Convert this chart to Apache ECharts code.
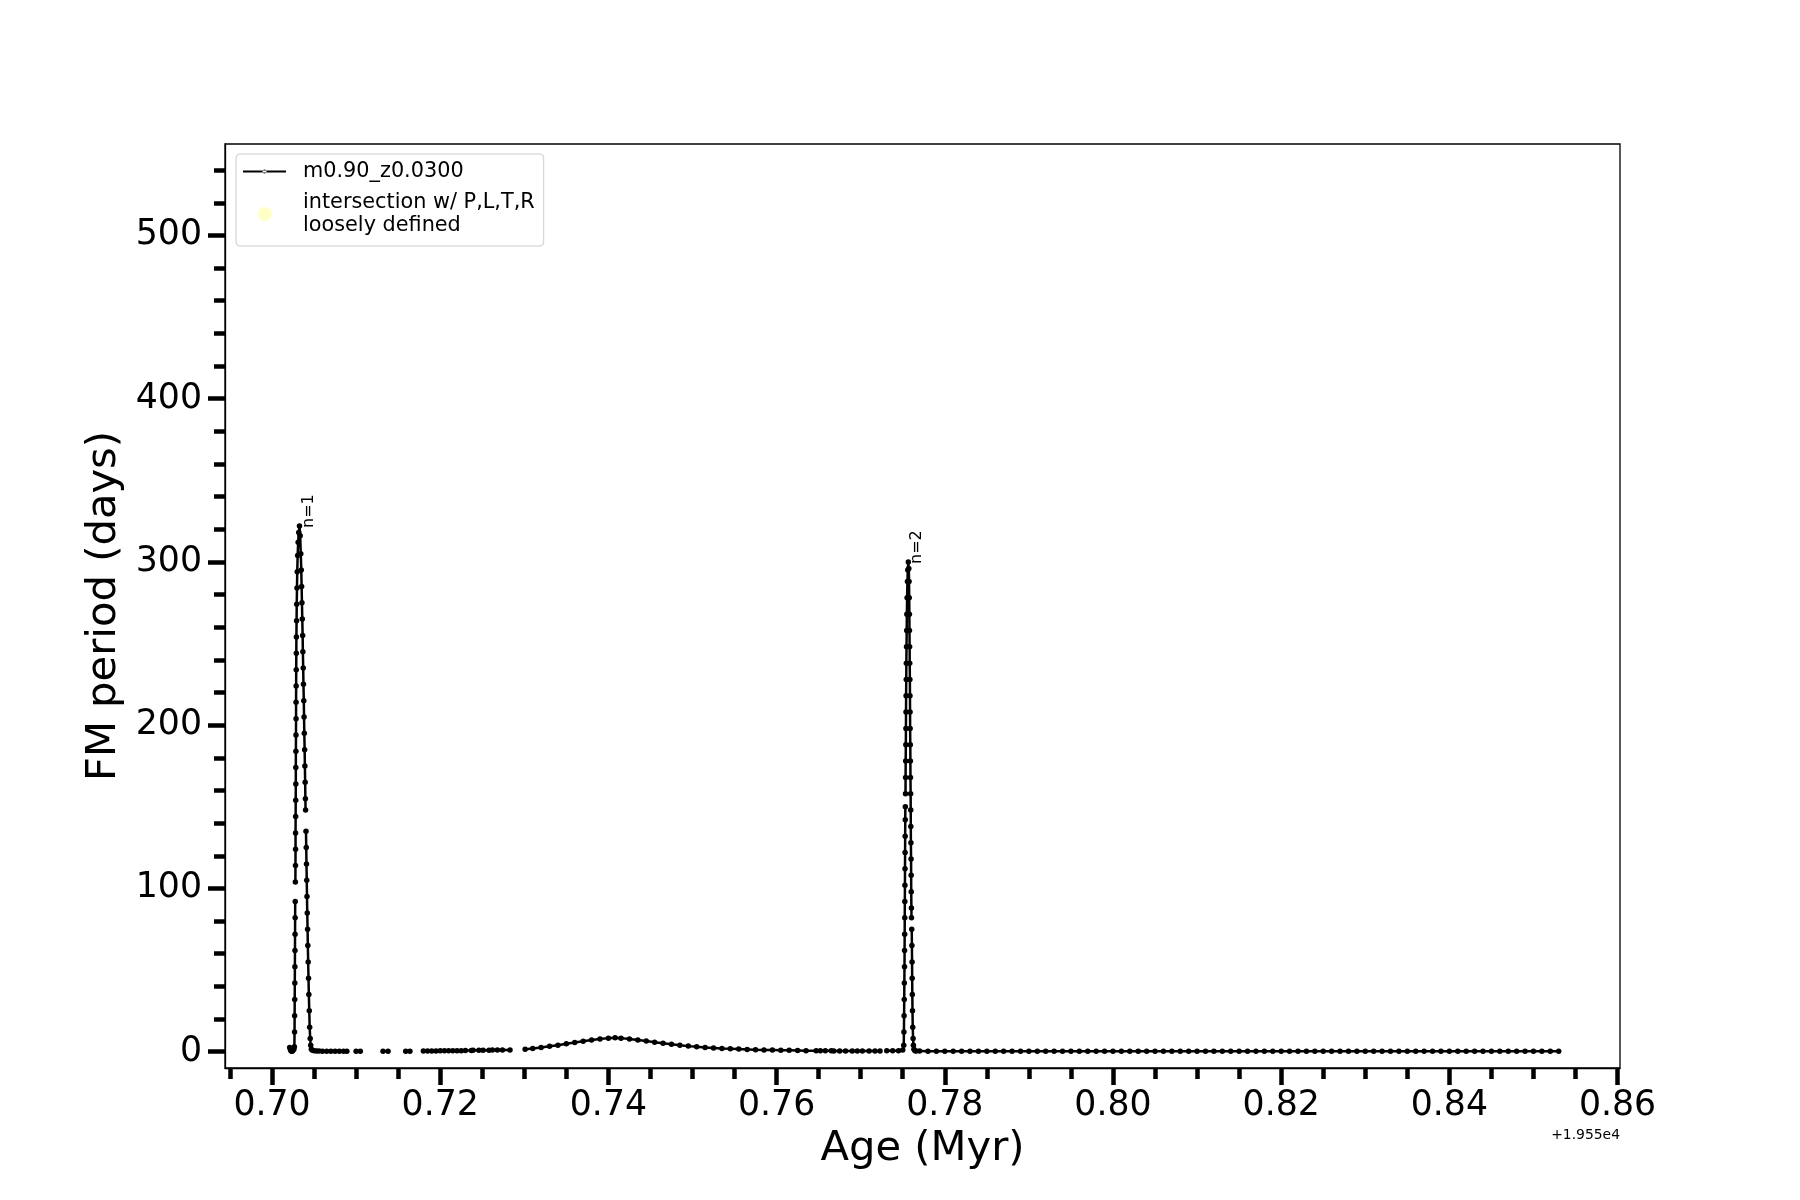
<!DOCTYPE html>
<html>
<head>
<meta charset="utf-8">
<script src="https://cdn.jsdelivr.net/npm/echarts@6/dist/echarts.min.js"></script>
<style>html,body{margin:0;padding:0;background:#fff}#c{width:1800px;height:1200px}</style>
</head>
<body>
<div id="c"></div>
<script>
// ---- data (age offset from 1.955e4 Myr, FM period in days); null = gap in the track ----
const agePeak1 = [0.70210,0.70220,0.70230,0.70240,0.70250,0.70260,0.70266,0.70268,0.70269,0.70270,0.70271,0.70272,0.70273,0.70274,0.70275,0.70276,0.70277,0.70278,0.70279,0.70280,0.70280,0.70281,0.70282,0.70283,0.70283,0.70284,0.70285,0.70286,0.70286,0.70287,0.70288,0.70289,0.70290,0.70292,0.70294,0.70297,0.70300,0.70305,0.70311,0.70318,0.70327,0.70335,0.70342,0.70348,0.70352,0.70356,0.70360,0.70364,0.70367,0.70371,0.70374,0.70378,0.70381,0.70384,0.70388,0.70391,0.70394,0.70397,0.70399,0.70401,0.70404,0.70407,0.70410,0.70413,0.70416,0.70419,0.70423,0.70426,0.70430,0.70434,0.70438,0.70443,0.70448,0.70454,0.70460,0.70468];
const periodPeak1 = [2.5,1.0,0.3,0.2,0.8,1.5,3,12,22,32,42,52,62,72,82,92,null,104,114,124,134,144,154,164,174,184,194,204,214,224,234,244,254,264,274,284,294,304,312,318,322,316,305,295,285,275,265,255,245,235,225,215,205,195,185,175,165,155,148,null,135,125,115,105,95,85,75,65,55,45,35,25,15,8,4,1.5];
const ageMid = [0.70480,0.70500,0.70530,0.70560,0.70600,0.70650,0.70700,0.70750,0.70800,0.70850,0.70890,0.70950,0.71000,0.71050,0.71200,0.71320,0.71380,0.71500,0.71590,0.71640,0.71720,0.71800,0.71850,0.71900,0.71950,0.72000,0.72050,0.72100,0.72150,0.72200,0.72250,0.72300,0.72370,0.72380,0.72390,0.72460,0.72490,0.72510,0.72580,0.72600,0.72620,0.72680,0.72740,0.72830,0.72900,0.73010,0.7310,0.7320,0.7330,0.7340,0.7350,0.7360,0.7370,0.7380,0.7390,0.7400,0.7408,0.7415,0.7425,0.7435,0.7445,0.7455,0.7465,0.7475,0.7485,0.7495,0.7505,0.7515,0.7525,0.7535,0.7545,0.7555,0.7565,0.7575,0.7585,0.7595,0.7605,0.7615,0.7625,0.7635,0.7647,0.7650,0.7652,0.7658,0.7665,0.76665,0.7668,0.7675,0.7682,0.7690,0.7696,0.7699,0.7702,0.7710,0.7717,0.7723,0.7727,0.7731,0.7738,0.7745,0.7750];
const periodMid = [0.8,0.5,0.4,0.4,0.3,0.3,0.3,0.3,0.3,0.3,0.3,null,0.3,0.3,null,0.3,0.3,null,0.3,0.3,null,0.4,0.4,0.4,0.4,0.5,0.5,0.5,0.5,0.6,0.6,0.7,0.7,null,0.8,0.8,null,0.9,0.9,null,1.0,1.0,1.1,1.1,null,1.5,2.0,2.6,3.3,4.0,4.8,5.6,6.4,7.2,7.8,8.3,8.5,8.3,7.8,7.2,6.5,5.8,5.1,4.5,3.9,3.4,3.0,2.6,2.3,2.0,1.8,1.6,1.4,1.2,1.1,1.0,0.9,0.8,0.7,0.6,0.5,null,0.5,0.5,0.5,null,0.4,0.4,0.4,0.4,0.4,null,0.4,0.4,0.4,0.4,null,0.5,0.5,0.6,1.0];
const agePeak2 = [0.77512,0.77514,0.77516,0.77518,0.77519,0.77521,0.77522,0.77523,0.77524,0.77525,0.77526,0.77527,0.77528,0.77529,0.77530,0.77531,0.77532,0.77533,0.77534,0.77535,0.77537,0.77538,0.77539,0.77540,0.77542,0.77543,0.77545,0.77547,0.77549,0.77552,0.77556,0.77560,0.77566,0.77572,0.77575,0.77577,0.77579,0.77580,0.77582,0.77583,0.77585,0.77586,0.77587,0.77588,0.77590,0.77591,0.77592,0.77594,0.77595,0.77596,0.77597,0.77599,0.77600,0.77601,0.77603,0.77604,0.77605,0.77607,0.77609,0.77611,0.77612,0.77614,0.77616,0.77619,0.77623,0.77627,0.77633,0.77645,0.77660];
const periodPeak2 = [4,12,22,32,42,52,62,72,82,92,102,112,122,132,142,150,null,158,168,178,188,198,208,218,228,238,248,258,268,278,288,295,300,296,288,278,268,258,248,238,228,218,208,198,188,178,168,158,148,138,128,118,108,98,88,82,null,75,65,55,45,35,25,15,8,4,1.5,0.6,0.4];
const ageTail = [0.777,0.778,0.779,0.780,0.781,0.782,0.783,0.784,0.785,0.786,0.787,0.788,0.789,0.790,0.791,0.792,0.793,0.794,0.795,0.796,0.797,0.798,0.799,0.800,0.801,0.802,0.803,0.804,0.805,0.806,0.807,0.808,0.809,0.810,0.811,0.812,0.813,0.814,0.815,0.816,0.817,0.818,0.819,0.820,0.821,0.822,0.823,0.824,0.825,0.826,0.827,0.828,0.829,0.830,0.831,0.832,0.833,0.834,0.835,0.836,0.837,0.838,0.839,0.840,0.841,0.842,0.843,0.844,0.845,0.846,0.847,0.848,0.849,0.850,0.851,0.852,0.853];
const periodTail = [0.4,0.3,0.3,0.3,0.3,0.3,0.3,0.3,0.3,0.3,0.3,0.3,0.3,0.3,0.3,0.3,0.3,0.3,0.3,0.3,0.2,0.2,0.2,0.2,0.2,0.2,0.2,0.2,0.2,0.2,0.2,0.2,0.2,0.2,0.2,0.2,0.2,0.2,0.2,0.2,0.2,0.2,0.2,0.2,0.2,0.2,0.2,0.2,0.2,0.2,0.2,0.2,0.2,0.2,0.2,0.2,0.2,0.2,0.2,0.2,0.2,0.2,0.2,0.2,0.2,0.2,0.2,0.2,0.2,0.2,0.2,0.2,0.2,0.2,0.2,0.2,0.2];
const intersectAge = [];
const intersectPeriod = [];
const annoText = ['n=1','n=2'];
const annoAge = [0.70327, 0.77566];
const annoPeriod = [322, 300];
const majorX = [0.70,0.72,0.74,0.76,0.78,0.80,0.82,0.84,0.86];
const minorX = [0.695,0.705,0.71,0.715,0.725,0.73,0.735,0.745,0.75,0.755,0.765,0.77,0.775,0.785,0.79,0.795,0.805,0.81,0.815,0.825,0.83,0.835,0.845,0.85,0.855];
const majorY = [0,100,200,300,400,500];
const minorY = [20,40,60,80,120,140,160,180,220,240,260,280,320,340,360,380,420,440,460,480,520,540];
const seriesName = 'm0.90_z0.0300';
const intersectName = 'intersection w/ P,L,T,R\nloosely defined';
const xOffsetText = '+1.955e4';
const xTitle = 'Age (Myr)';
const yTitle = 'FM period (days)';

// ---- chart ----
const FONT = 'DejaVu Sans';
const X_MIN = 0.69441, X_MAX = 0.86029, Y_MIN = -10, Y_MAX = 556;
const pairs = (xs, ys) => xs.map((a, i) => [a, ys[i] === null ? '-' : ys[i]]);
const mainData = [].concat(
  pairs(agePeak1, periodPeak1), pairs(ageMid, periodMid),
  pairs(agePeak2, periodPeak2), pairs(ageTail, periodTail));
const grid = { left: 225, right: 180, top: 144, bottom: 132 };
const chart = echarts.init(document.getElementById('c'), null, { renderer: 'canvas' });
const legendIcon = 'path://M0,6 L43,6 L43,8 L0,8 Z M19.5,7 A2,2 0 1,0 23.5,7 A2,2 0 1,0 19.5,7 Z';
const circleIcon = 'path://M14,7 A7,7 0 1,1 0,7 A7,7 0 1,1 14,7 Z';
chart.setOption({
  animation: false,
  backgroundColor: '#fff',
  textStyle: { fontFamily: FONT },
  grid: [
    Object.assign({ show: true, borderColor: '#000', borderWidth: 1.3, backgroundColor: 'transparent' }, grid),
    Object.assign({ show: false }, grid)
  ],
  legend: {
    orient: 'vertical', left: 236, top: 154,
    padding: [6, 9, 9, 7], itemGap: 8, itemWidth: 43, itemHeight: 14,
    borderColor: '#cccccc', borderWidth: 1, borderRadius: 4, backgroundColor: 'rgba(255,255,255,0.8)',
    textStyle: { fontFamily: FONT, fontSize: 20.8, color: '#000', lineHeight: 23, padding: [0, 0, 0, 12] },
    data: [
      { name: seriesName, icon: legendIcon },
      { name: intersectName, icon: circleIcon }
    ]
  },
  xAxis: [
    {
      type: 'value', gridIndex: 0, min: X_MIN, max: X_MAX, position: 'bottom',
      axisLine: { show: true, onZero: false, lineStyle: { color: '#000', width: 1.3 } },
      axisTick: { show: true, customValues: majorX, length: 17, lineStyle: { color: '#000', width: 4.5 } },
      axisLabel: { show: true, customValues: majorX, formatter: v => v.toFixed(2), fontFamily: FONT, fontSize: 34.7, color: '#000', margin: 20 },
      splitLine: { show: false },
      name: xTitle, nameLocation: 'middle', nameGap: 58,
      nameTextStyle: { fontFamily: FONT, fontSize: 41.7, color: '#000' }
    },
    {
      type: 'value', gridIndex: 1, min: X_MIN, max: X_MAX, position: 'bottom',
      axisLine: { show: false, onZero: false },
      axisTick: { show: true, customValues: minorX, length: 11, lineStyle: { color: '#000', width: 4.5 } },
      axisLabel: { show: false }, splitLine: { show: false }
    }
  ],
  yAxis: [
    {
      type: 'value', gridIndex: 0, min: Y_MIN, max: Y_MAX, position: 'left',
      axisLine: { show: true, onZero: false, lineStyle: { color: '#000', width: 1.3 } },
      axisTick: { show: true, customValues: majorY, length: 17, lineStyle: { color: '#000', width: 4.5 } },
      axisLabel: { show: true, customValues: majorY, fontFamily: FONT, fontSize: 34.7, color: '#000', margin: 23 },
      splitLine: { show: false },
      name: yTitle, nameLocation: 'middle', nameGap: 98, nameRotate: 90,
      nameTextStyle: { fontFamily: FONT, fontSize: 41.7, color: '#000' }
    },
    {
      type: 'value', gridIndex: 1, min: Y_MIN, max: Y_MAX, position: 'left',
      axisLine: { show: false, onZero: false },
      axisTick: { show: true, customValues: minorY, length: 11, lineStyle: { color: '#000', width: 4.5 } },
      axisLabel: { show: false }, splitLine: { show: false }
    }
  ],
  series: [
    {
      name: seriesName, type: 'line', xAxisIndex: 0, yAxisIndex: 0,
      data: mainData, connectNulls: false,
      symbol: 'circle', symbolSize: 5.5, showSymbol: true, showAllSymbol: true,
      itemStyle: { color: '#000' }, lineStyle: { color: '#000', width: 2.5 },
      emphasis: { disabled: true }, clip: true
    },
    {
      name: intersectName, type: 'scatter', xAxisIndex: 0, yAxisIndex: 0,
      data: intersectAge.map((a, i) => [a, intersectPeriod[i]]),
      symbol: 'circle', symbolSize: 14, itemStyle: { color: 'rgba(255,255,150,0.65)' }
    }
  ]
});

function addGraphics() {
  const g = [];
  annoText.forEach((t, i) => {
    const p = chart.convertToPixel({ gridIndex: 0 }, [annoAge[i], annoPeriod[i]]);
    g.push({
      type: 'text', x: p[0] + 1, y: p[1] + 2, rotation: Math.PI / 2,
      style: { text: t, fontFamily: FONT, fontSize: 16, fill: '#000', align: 'left', verticalAlign: 'top' }
    });
  });
  const r = chart.convertToPixel({ gridIndex: 0 }, [X_MAX, Y_MIN]);
  g.push({
    type: 'text', x: r[0], y: 1135,
    style: { text: xOffsetText, fontFamily: FONT, fontSize: 13.9, fill: '#000', align: 'right', verticalAlign: 'middle' }
  });
  chart.setOption({ graphic: g });
}
addGraphics();
</script>
</body>
</html>
